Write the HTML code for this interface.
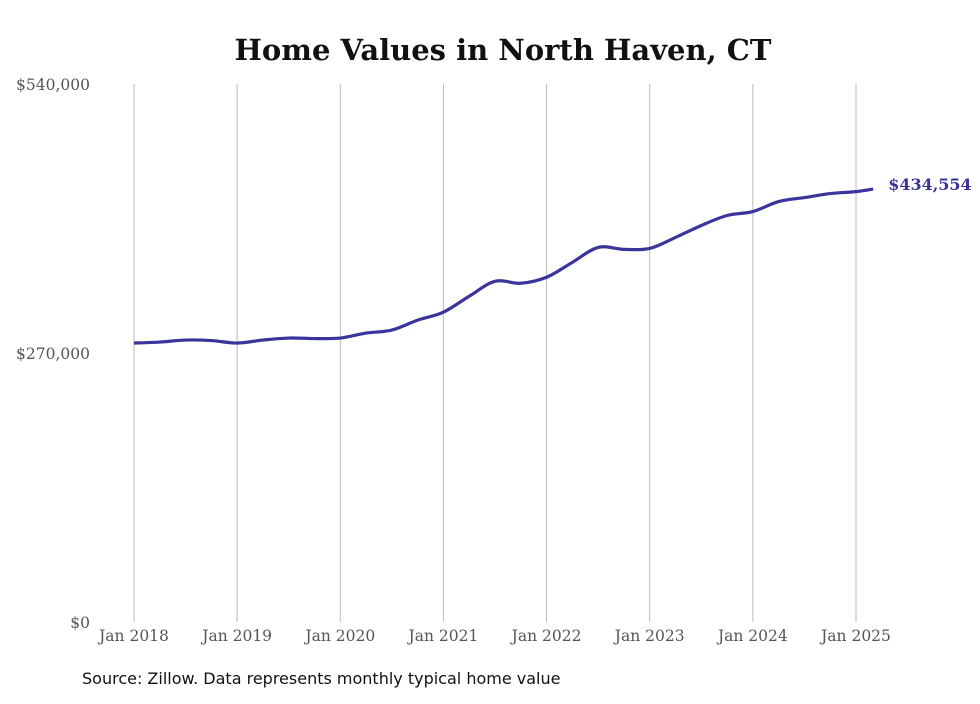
<!DOCTYPE html>
<html><head><meta charset="utf-8"><style>
body{margin:0;background:#fff;}
svg text{font-family:"DejaVu Serif","Liberation Serif",serif;}
</style></head><body>
<svg width="980" height="699">
<text x="503" y="60" text-anchor="middle" font-size="29" font-weight="bold" fill="#111">Home Values in North Haven, CT</text>
<g id="grid"></g><g id="yt"></g><g id="xt"></g>
<path id="line" fill="none" stroke="#3a349c" stroke-width="3.2"/>
<text id="endlbl" font-size="16" font-weight="bold" fill="#3a349c"></text>
<text x="82" y="684" font-size="16" fill="#111" style="font-family:'DejaVu Sans',sans-serif">Source: Zillow. Data represents monthly typical home value</text>
</svg>
<script>
const months=[0,3,6,9,12,15,18,21,24,27,30,33,36,39,42,45,48,51,54,57,60,63,66,69,72,75,78,81,84,86];
const values=[280000,281000,283000,282500,280000,283000,285000,284500,285000,290000,293000,303000,311000,327000,342000,340000,346000,361000,376000,374000,375000,386000,398000,408000,412000,422000,426000,430000,432000,434554];
const yTicks=[0,270000,540000];
const yTickLabels=["$0","$270,000","$540,000"];
const xYears=[2018,2019,2020,2021,2022,2023,2024,2025];
const ns="http://www.w3.org/2000/svg";
const x=m=>134+m*(856-134)/84;
const y=v=>622-v*538/540000;
const grid=document.getElementById('grid'),yt=document.getElementById('yt'),xt=document.getElementById('xt');
xYears.forEach((yr,i)=>{
 const l=document.createElementNS(ns,'line');
 
 
 const xx=x((yr-2018)*12);
 l.setAttribute('x1',xx);l.setAttribute('x2',xx);l.setAttribute('y1',84);l.setAttribute('y2',622);
 l.setAttribute('stroke','#bbb');l.setAttribute('stroke-width','1');grid.appendChild(l);
 const t=document.createElementNS(ns,'text');
 
 
 t.setAttribute('x',xx);t.setAttribute('y',641);t.setAttribute('text-anchor','middle');
 t.setAttribute('font-size','15.5');t.setAttribute('fill','#555');t.textContent='Jan '+yr;xt.appendChild(t);
});
yTicks.forEach((v,i)=>{
 const t=document.createElementNS(ns,'text');
 
 
 t.setAttribute('x',90);t.setAttribute('y',y(v)+6);t.setAttribute('text-anchor','end');
 t.setAttribute('font-size','15.5');t.setAttribute('fill','#555');t.textContent=yTickLabels[i];yt.appendChild(t);
});
const P=months.map((m,i)=>[x(m),y(values[i])]);
let d='M'+P[0][0]+','+P[0][1];
for(let i=0;i<P.length-1;i++){
 const p0=P[Math.max(i-1,0)],p1=P[i],p2=P[i+1],p3=P[Math.min(i+2,P.length-1)];
 const c1=[p1[0]+(p2[0]-p0[0])/6,p1[1]+(p2[1]-p0[1])/6];
 const c2=[p2[0]-(p3[0]-p1[0])/6,p2[1]-(p3[1]-p1[1])/6];
 d+=` C${c1[0]},${c1[1]} ${c2[0]},${c2[1]} ${p2[0]},${p2[1]}`;
}
document.getElementById('line').setAttribute('d',d);
const last=P[P.length-1],lbl=document.getElementById('endlbl');
lbl.setAttribute('x',last[0]+15);lbl.setAttribute('y',last[1]+1);
lbl.textContent='$'+values[values.length-1].toLocaleString('en-US');
</script>
</body></html>
